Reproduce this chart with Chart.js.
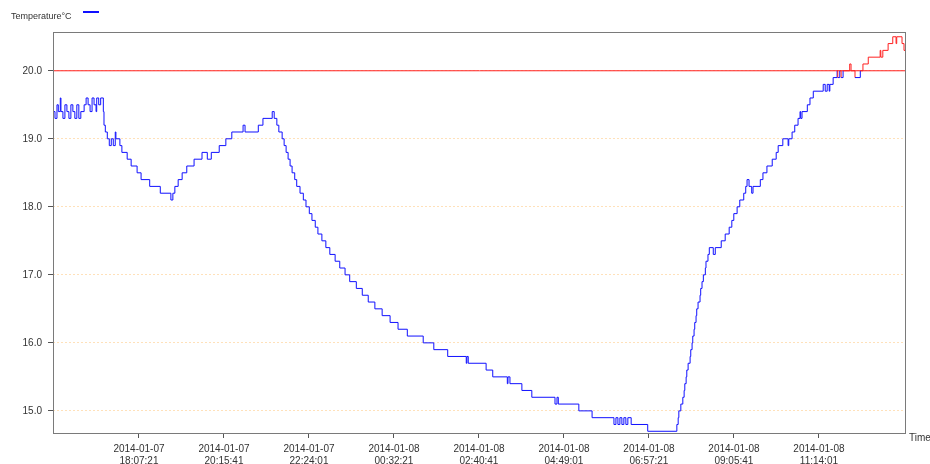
<!DOCTYPE html>
<html>
<head>
<meta charset="utf-8">
<script src="https://cdn.jsdelivr.net/npm/chart.js@4/dist/chart.umd.min.js"></script>
<style>
  html, body { margin: 0; padding: 0; background: #fff; }
  #wrap { width: 930px; height: 464px; }
</style>
</head>
<body>
<div id="wrap"><canvas id="chart"></canvas></div>
<script>
// minutes since 2014-01-07 15:57:30 (left edge of the plot)
const minutes = [
  0, 3, 6, 8, 11, 12, 15, 18, 21, 24, 27, 30, 33, 36, 39, 42, 47, 50, 53, 56,
  59, 62, 65, 66, 69, 72, 76, 77, 79, 82, 85, 88, 91, 94, 95, 101, 104, 112, 118, 127,
  133, 146, 162, 178, 181, 184, 189, 195, 202, 213, 225, 233, 239, 251, 261, 270, 287, 290, 310, 317,
  331, 334, 338, 341, 346, 349, 352, 355, 358, 361, 365, 368, 373, 378, 382, 387, 391, 396, 400, 406,
  412, 418, 426, 433, 441, 448, 458, 467, 476, 486, 497, 509, 521, 535, 559, 575, 596, 624, 625, 627,
  654, 664, 686, 687, 690, 708, 723, 758, 761, 763, 794, 814, 847, 850, 853, 856, 859, 862, 865, 868,
  873, 898, 942, 944, 945, 948, 951, 953, 954, 956, 957, 959, 962, 963, 965, 966, 968, 969, 971, 972,
  974, 977, 978, 980, 982, 985, 986, 989, 991, 997, 1000, 1009, 1015, 1021, 1025, 1028, 1033, 1037, 1043, 1046,
  1048, 1051, 1055, 1057, 1068, 1072, 1078, 1086, 1092, 1095, 1102, 1110, 1111, 1116, 1120, 1125, 1128, 1129, 1131, 1139,
  1143, 1148, 1163, 1166, 1169, 1172, 1173, 1178, 1184, 1185, 1188, 1190, 1193, 1203, 1205, 1211, 1219, 1223, 1231, 1249,
  1250, 1253, 1261, 1268, 1273, 1274, 1282, 1285, 1288
];
const temperature = [
  19.4, 19.3, 19.5, 19.4, 19.6, 19.4, 19.3, 19.5, 19.4, 19.3, 19.5, 19.4, 19.3, 19.5, 19.3, 19.4, 19.5, 19.6, 19.5, 19.4,
  19.6, 19.5, 19.4, 19.6, 19.5, 19.6, 19.4, 19.2, 19.1, 19.0, 18.9, 19.0, 18.9, 19.1, 19.0, 18.9, 18.8, 18.7, 18.6, 18.5,
  18.4, 18.3, 18.2, 18.1, 18.2, 18.3, 18.4, 18.5, 18.6, 18.7, 18.8, 18.7, 18.8, 18.9, 19.0, 19.1, 19.2, 19.1, 19.2, 19.3,
  19.4, 19.3, 19.2, 19.1, 19.0, 18.9, 18.8, 18.7, 18.6, 18.5, 18.4, 18.3, 18.2, 18.1, 18.0, 17.9, 17.8, 17.7, 17.6, 17.5,
  17.4, 17.3, 17.2, 17.1, 17.0, 16.9, 16.8, 16.7, 16.6, 16.5, 16.4, 16.3, 16.2, 16.1, 16.0, 15.9, 15.8, 15.7, 15.8, 15.7,
  15.6, 15.5, 15.4, 15.5, 15.4, 15.3, 15.2, 15.1, 15.2, 15.1, 15.0, 14.9, 14.8, 14.9, 14.8, 14.9, 14.8, 14.9, 14.8, 14.9,
  14.8, 14.7, 14.8, 14.9, 15.0, 15.1, 15.2, 15.3, 15.4, 15.5, 15.6, 15.7, 15.8, 15.9, 16.0, 16.1, 16.2, 16.3, 16.4, 16.5,
  16.6, 16.7, 16.8, 16.9, 17.0, 17.1, 17.2, 17.3, 17.4, 17.3, 17.4, 17.5, 17.6, 17.7, 17.8, 17.9, 18.0, 18.1, 18.2, 18.3,
  18.4, 18.3, 18.2, 18.3, 18.4, 18.5, 18.6, 18.7, 18.8, 18.9, 19.0, 18.9, 19.0, 19.1, 19.2, 19.3, 19.4, 19.3, 19.4, 19.5,
  19.6, 19.7, 19.8, 19.7, 19.8, 19.7, 19.8, 19.9, 20.0, 19.9, 20.0, 19.9, 20.0, 20.1, 20.0, 19.9, 20.0, 20.1, 20.2, 20.3,
  20.2, 20.3, 20.4, 20.5, 20.4, 20.5, 20.4, 20.3, 20.3
];

const threshold = 20.0;
const tickMinutes = [129.85, 258.18, 386.52, 514.85, 643.18, 771.52, 899.85, 1028.18, 1156.52];
const tickLabels = [
  ['2014-01-07', '18:07:21'], ['2014-01-07', '20:15:41'], ['2014-01-07', '22:24:01'],
  ['2014-01-08', '00:32:21'], ['2014-01-08', '02:40:41'], ['2014-01-08', '04:49:01'],
  ['2014-01-08', '06:57:21'], ['2014-01-08', '09:05:41'], ['2014-01-08', '11:14:01']
];
const yTicks = [15, 16, 17, 18, 19, 20];

const BLUE = '#1010ff'
const RED = '#ff2020'

const points = minutes.map((m, i) => ({ x: m, y: temperature[i] }))

const extras = {
  id: 'extras',
  afterDatasetsDraw(chart) {
    const { ctx, chartArea: a } = chart
    ctx.save()
    ctx.strokeStyle = '#7a7a7a'
    ctx.lineWidth = 1
    ctx.strokeRect(a.left + 0.5, a.top + 0.5, a.right - a.left - 1, a.bottom - a.top - 1)
    ctx.fillStyle = '#333'
    ctx.font = '9px "Liberation Sans", Arial, sans-serif'
    ctx.textBaseline = 'middle'
    ctx.fillText('Temperature°C', 11, 17)
    ctx.font = '10px "Liberation Sans", Arial, sans-serif'
    ctx.fillText('Time', 909, 438)
    ctx.strokeStyle = BLUE
    ctx.lineWidth = 2
    ctx.beginPath()
    ctx.moveTo(83, 12)
    ctx.lineTo(99, 12)
    ctx.stroke()
    ctx.restore()
  }
}

new Chart(document.getElementById('chart').getContext('2d'), {
  type: 'line',
  data: {
    datasets: [
      {
        label: 'Temperature°C',
        data: points,
        stepped: true,
        borderWidth: 1,
        borderColor: BLUE,
        pointRadius: 0,
        segment: {
          borderColor: c => c.p0.parsed.y >= threshold ? RED : BLUE
        }
      },
      {
        label: 'limit',
        data: [{ x: 0, y: threshold }, { x: 1288, y: threshold }],
        borderColor: RED,
        borderWidth: 1,
        pointRadius: 0
      }
    ]
  },
  plugins: [extras],
  options: {
    responsive: true,
    maintainAspectRatio: false,
    animation: false,
    layout: { padding: { top: 32, right: 24, left: 0, bottom: 0 } },
    plugins: {
      legend: { display: false },
      tooltip: { enabled: false }
    },
    scales: {
      x: {
        type: 'linear',
        min: 0,
        max: 1288,
        afterBuildTicks: s => { s.ticks = tickMinutes.map(v => ({ value: v })) },
        afterFit: s => { s.height = 30 },
        border: { display: false },
        grid: { drawOnChartArea: false, drawTicks: true, tickLength: 4, tickColor: '#555' },
        ticks: {
          autoSkip: false,
          maxRotation: 0,
          padding: 5,
          color: '#333',
          font: { size: 10, family: '"Liberation Sans", Arial, sans-serif' },
          callback: (v, i) => tickLabels[i]
        }
      },
      y: {
        min: 14.66,
        max: 20.57,
        afterBuildTicks: s => { s.ticks = yTicks.map(v => ({ value: v })) },
        afterFit: s => { s.width = 53 },
        border: { display: false, dash: [2, 2] },
        grid: { color: 'rgba(255, 205, 140, 0.6)', lineWidth: 1, tickLength: 5, tickColor: '#555', tickBorderDash: [] },
        ticks: {
          padding: 6,
          color: '#333',
          font: { size: 10, family: '"Liberation Sans", Arial, sans-serif' },
          callback: v => v.toFixed(1)
        }
      }
    }
  }
})
</script>
</body>
</html>
